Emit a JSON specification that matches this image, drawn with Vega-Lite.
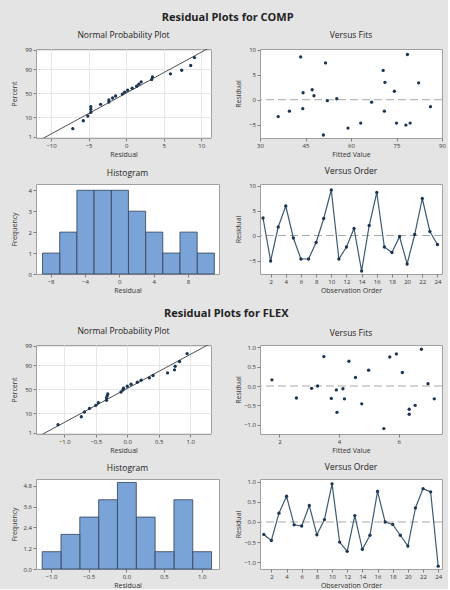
{
  "$schema": "https://vega.github.io/schema/vega-lite/v6.json",
  "background": "#e4e4e4",
  "padding": {"left": 9, "top": 11, "right": 2, "bottom": 0},
  "spacing": 13,
  "config": {
    "font": "Open Sans",
    "view": {"fill": "white", "stroke": "#a0a0a0", "strokeWidth": 1},
    "axis": {
      "labelFont": "Open Sans", "titleFont": "Open Sans",
      "labelFontSize": 6, "titleFontSize": 7, "titleFontWeight": "normal",
      "labelColor": "#333333", "titleColor": "#333333",
      "tickSize": 3, "tickColor": "#808080", "labelPadding": 1.5, "titlePadding": 2,
      "domain": false, "grid": false, "labelFlush": false, "labelOverlap": false
    },
    "axisY": {"minExtent": 16, "maxExtent": 16, "titlePadding": 3},
    "axisX": {"minExtent": 10, "maxExtent": 10},
    "title": {"font": "Open Sans", "fontSize": 8.5, "fontWeight": "normal", "color": "#222222", "anchor": "middle"}
  },
  "datasets": {
    "comp": [
      {"obs": 1, "fit": 71.2, "residual": 3.5, "normal_score": 0.868},
      {"obs": 2, "fit": 78.1, "residual": -5.1, "normal_score": -1.223},
      {"obs": 3, "fit": 74.3, "residual": 1.7, "normal_score": 0.48},
      {"obs": 4, "fit": 70.6, "residual": 5.9, "normal_score": 1.03},
      {"obs": 5, "fit": 66.8, "residual": -0.5, "normal_score": -0.051},
      {"obs": 6, "fit": 63.2, "residual": -4.7, "normal_score": -1.03},
      {"obs": 7, "fit": 75.0, "residual": -4.7, "normal_score": -0.868},
      {"obs": 8, "fit": 86.2, "residual": -1.4, "normal_score": -0.155},
      {"obs": 9, "fit": 82.3, "residual": 3.4, "normal_score": 0.727},
      {"obs": 10, "fit": 78.6, "residual": 9.1, "normal_score": 1.9},
      {"obs": 11, "fit": 79.5, "residual": -4.7, "normal_score": -0.727},
      {"obs": 12, "fit": 39.7, "residual": -2.3, "normal_score": -0.48},
      {"obs": 13, "fit": 44.2, "residual": 1.4, "normal_score": 0.367},
      {"obs": 14, "fit": 50.9, "residual": -7.1, "normal_score": -1.9},
      {"obs": 15, "fit": 47.2, "residual": 2.0, "normal_score": 0.599},
      {"obs": 16, "fit": 43.4, "residual": 8.6, "normal_score": 1.478},
      {"obs": 17, "fit": 71.0, "residual": -2.3, "normal_score": -0.367},
      {"obs": 18, "fit": 36.0, "residual": -3.4, "normal_score": -0.599},
      {"obs": 19, "fit": 52.2, "residual": -0.2, "normal_score": 0.051},
      {"obs": 20, "fit": 59.0, "residual": -5.7, "normal_score": -1.478},
      {"obs": 21, "fit": 55.3, "residual": 0.2, "normal_score": 0.155},
      {"obs": 22, "fit": 51.6, "residual": 7.4, "normal_score": 1.223},
      {"obs": 23, "fit": 47.8, "residual": 0.8, "normal_score": 0.26},
      {"obs": 24, "fit": 44.1, "residual": -1.8, "normal_score": -0.26}
    ],
    "flex": [
      {"obs": 1, "fit": 2.57, "residual": -0.31, "normal_score": -0.26},
      {"obs": 2, "fit": 4.76, "residual": -0.46, "normal_score": -0.727},
      {"obs": 3, "fit": 4.55, "residual": 0.22, "normal_score": 0.48},
      {"obs": 4, "fit": 4.33, "residual": 0.64, "normal_score": 0.868},
      {"obs": 5, "fit": 4.13, "residual": -0.07, "normal_score": -0.051},
      {"obs": 6, "fit": 3.91, "residual": -0.10, "normal_score": -0.155},
      {"obs": 7, "fit": 4.99, "residual": 0.41, "normal_score": 0.727},
      {"obs": 8, "fit": 3.74, "residual": -0.32, "normal_score": -0.367},
      {"obs": 9, "fit": 6.98, "residual": 0.06, "normal_score": 0.26},
      {"obs": 10, "fit": 6.76, "residual": 0.95, "normal_score": 1.9},
      {"obs": 11, "fit": 6.55, "residual": -0.50, "normal_score": -0.868},
      {"obs": 12, "fit": 6.35, "residual": -0.73, "normal_score": -1.478},
      {"obs": 13, "fit": 1.75, "residual": 0.16, "normal_score": 0.367},
      {"obs": 14, "fit": 3.93, "residual": -0.68, "normal_score": -1.223},
      {"obs": 15, "fit": 4.18, "residual": -0.33, "normal_score": -0.599},
      {"obs": 16, "fit": 3.49, "residual": 0.76, "normal_score": 1.223},
      {"obs": 17, "fit": 3.28, "residual": 0.00, "normal_score": 0.155},
      {"obs": 18, "fit": 3.08, "residual": -0.06, "normal_score": 0.051},
      {"obs": 19, "fit": 7.19, "residual": -0.33, "normal_score": -0.48},
      {"obs": 20, "fit": 6.35, "residual": -0.60, "normal_score": -1.03},
      {"obs": 21, "fit": 6.12, "residual": 0.35, "normal_score": 0.599},
      {"obs": 22, "fit": 5.92, "residual": 0.83, "normal_score": 1.478},
      {"obs": 23, "fit": 5.70, "residual": 0.75, "normal_score": 1.03},
      {"obs": 24, "fit": 5.50, "residual": -1.10, "normal_score": -1.9}
    ],
    "comp_line": [
      {"residual": -12.8, "normal_score": -2.8},
      {"residual": 12.8, "normal_score": 2.8}
    ],
    "flex_line": [
      {"residual": -1.56, "normal_score": -2.8},
      {"residual": 1.52, "normal_score": 2.8}
    ]
  },
  "vconcat": [
    {
      "title": {"text": "Residual Plots for COMP", "fontSize": 11, "fontWeight": "bold", "offset": 8},
      "spacing": 8,
      "vconcat": [
        {
          "spacing": 21,
          "hconcat": [
            {
              "title": {"text": "Normal Probability Plot", "offset": 7},
              "width": 175, "height": 89,
              "layer": [
                {
                  "data": {"name": "comp_line"},
                  "mark": {"type": "line", "color": "#505050", "strokeWidth": 1, "clip": true},
                  "encoding": {
                    "x": {"field": "residual", "type": "quantitative", "scale": {"domain": [-12, 11.3], "nice": false, "zero": false}, "axis": {"values": [-10, -5, 0, 5, 10], "tickCount": 12, "format": "d", "title": "Residual", "grid": true, "gridColor": "#e6e6e6"}},
                    "y": {"field": "normal_score", "type": "quantitative", "scale": {"domain": [-2.4, 2.36], "nice": false, "zero": false}, "axis": {"values": [-2.3263, -1.2816, 0, 1.2816, 2.3263], "tickCount": 12, "labelExpr": "datum.value < -2 ? '1' : datum.value < -1 ? '10' : datum.value < 1 ? '50' : datum.value < 2 ? '90' : '99'", "title": "Percent", "grid": true, "gridColor": "#e6e6e6"}}
                  }
                },
                {
                  "data": {"name": "comp"},
                  "mark": {"type": "circle", "size": 11, "color": "#1c3552", "opacity": 1},
                  "encoding": {
                    "x": {"field": "residual", "type": "quantitative", "axis": {"values": [-10, -5, 0, 5, 10], "tickCount": 12, "format": "d", "title": "Residual", "grid": true, "gridColor": "#e6e6e6"}},
                    "y": {"field": "normal_score", "type": "quantitative", "axis": {"values": [-2.3263, -1.2816, 0, 1.2816, 2.3263], "tickCount": 12, "labelExpr": "datum.value < -2 ? '1' : datum.value < -1 ? '10' : datum.value < 1 ? '50' : datum.value < 2 ? '90' : '99'", "title": "Percent", "grid": true, "gridColor": "#e6e6e6"}}
                  }
                }
              ]
            },
            {
              "title": {"text": "Versus Fits", "offset": 7},
              "width": 182, "height": 89,
              "layer": [
                {
                  "data": {"values": [{}]},
                  "mark": {"type": "rule", "color": "#a8a8a8", "strokeDash": [8, 4], "strokeWidth": 1},
                  "encoding": {"y": {"datum": 0, "type": "quantitative", "scale": {"domain": [-7.7, 10.2], "nice": false, "zero": false}, "axis": {"values": [-5, 0, 5, 10], "tickCount": 12, "format": "d", "title": "Residual"}}}
                },
                {
                  "data": {"name": "comp"},
                  "mark": {"type": "circle", "size": 11, "color": "#1c3552", "opacity": 1},
                  "encoding": {
                    "x": {"field": "fit", "type": "quantitative", "scale": {"domain": [30, 90], "nice": false, "zero": false}, "axis": {"values": [30, 45, 60, 75, 90], "tickCount": 12, "format": "d", "title": "Fitted Value"}},
                    "y": {"field": "residual", "type": "quantitative", "axis": {"values": [-5, 0, 5, 10], "tickCount": 12, "format": "d", "title": "Residual"}}
                  }
                }
              ]
            }
          ]
        },
        {
          "spacing": 13,
          "hconcat": [
            {
              "title": {"text": "Histogram", "offset": 7},
              "width": 183, "height": 90,
              "data": {"name": "comp"},
              "mark": {"type": "bar", "fill": "#7aa3d8", "stroke": "#2e3f57", "strokeWidth": 0.8, "binSpacing": 0},
              "encoding": {
                "x": {"field": "residual", "type": "quantitative", "bin": {"extent": [-9, 11], "step": 2, "nice": false}, "scale": {"domain": [-9.7, 11.6], "nice": false, "zero": false}, "axis": {"values": [-8, -4, 0, 4, 8], "tickCount": 12, "format": "d", "title": "Residual"}},
                "y": {"aggregate": "count", "type": "quantitative", "scale": {"domain": [0, 4.3], "nice": false}, "axis": {"values": [0, 1, 2, 3, 4], "tickCount": 12, "format": "d", "title": "Frequency"}}
              }
            },
            {
              "title": {"text": "Versus Order", "offset": 7},
              "width": 182, "height": 90,
              "layer": [
                {
                  "data": {"values": [{}]},
                  "mark": {"type": "rule", "color": "#a8a8a8", "strokeDash": [8, 4], "strokeWidth": 1},
                  "encoding": {"y": {"datum": 0, "type": "quantitative", "scale": {"domain": [-7.7, 10.3], "nice": false, "zero": false}, "axis": {"values": [-5, 0, 5, 10], "tickCount": 12, "format": "d", "title": "Residual"}}}
                },
                {
                  "data": {"name": "comp"},
                  "mark": {"type": "line", "color": "#3e5a6e", "strokeWidth": 1.2, "point": {"filled": true, "color": "#1c3552", "size": 11, "opacity": 1}},
                  "encoding": {
                    "x": {"field": "obs", "type": "quantitative", "scale": {"domain": [0.6, 24.6], "nice": false, "zero": false}, "axis": {"values": [2, 4, 6, 8, 10, 12, 14, 16, 18, 20, 22, 24], "tickCount": 12, "format": "d", "title": "Observation Order"}},
                    "y": {"field": "residual", "type": "quantitative", "axis": {"values": [-5, 0, 5, 10], "tickCount": 12, "format": "d", "title": "Residual"}}
                  }
                }
              ]
            }
          ]
        }
      ]
    },
    {
      "title": {"text": "Residual Plots for FLEX", "fontSize": 11, "fontWeight": "bold", "offset": 8},
      "spacing": 8,
      "vconcat": [
        {
          "spacing": 21,
          "hconcat": [
            {
              "title": {"text": "Normal Probability Plot", "offset": 7},
              "width": 175, "height": 89,
              "layer": [
                {
                  "data": {"name": "flex_line"},
                  "mark": {"type": "line", "color": "#505050", "strokeWidth": 1, "clip": true},
                  "encoding": {
                    "x": {"field": "residual", "type": "quantitative", "scale": {"domain": [-1.45, 1.33], "nice": false, "zero": false}, "axis": {"values": [-1, -0.5, 0, 0.5, 1], "tickCount": 12, "format": ".1f", "title": "Residual", "grid": true, "gridColor": "#e6e6e6"}},
                    "y": {"field": "normal_score", "type": "quantitative", "scale": {"domain": [-2.4, 2.36], "nice": false, "zero": false}, "axis": {"values": [-2.3263, -1.2816, 0, 1.2816, 2.3263], "tickCount": 12, "labelExpr": "datum.value < -2 ? '1' : datum.value < -1 ? '10' : datum.value < 1 ? '50' : datum.value < 2 ? '90' : '99'", "title": "Percent", "grid": true, "gridColor": "#e6e6e6"}}
                  }
                },
                {
                  "data": {"name": "flex"},
                  "mark": {"type": "circle", "size": 11, "color": "#1c3552", "opacity": 1},
                  "encoding": {
                    "x": {"field": "residual", "type": "quantitative", "axis": {"values": [-1, -0.5, 0, 0.5, 1], "tickCount": 12, "format": ".1f", "title": "Residual", "grid": true, "gridColor": "#e6e6e6"}},
                    "y": {"field": "normal_score", "type": "quantitative", "axis": {"values": [-2.3263, -1.2816, 0, 1.2816, 2.3263], "tickCount": 12, "labelExpr": "datum.value < -2 ? '1' : datum.value < -1 ? '10' : datum.value < 1 ? '50' : datum.value < 2 ? '90' : '99'", "title": "Percent", "grid": true, "gridColor": "#e6e6e6"}}
                  }
                }
              ]
            },
            {
              "title": {"text": "Versus Fits", "offset": 7},
              "width": 182, "height": 89,
              "layer": [
                {
                  "data": {"values": [{}]},
                  "mark": {"type": "rule", "color": "#a8a8a8", "strokeDash": [8, 4], "strokeWidth": 1},
                  "encoding": {"y": {"datum": 0, "type": "quantitative", "scale": {"domain": [-1.24, 1.06], "nice": false, "zero": false}, "axis": {"values": [-1, -0.5, 0, 0.5, 1], "tickCount": 12, "format": ".1f", "title": "Residual"}}}
                },
                {
                  "data": {"name": "flex"},
                  "mark": {"type": "circle", "size": 11, "color": "#1c3552", "opacity": 1},
                  "encoding": {
                    "x": {"field": "fit", "type": "quantitative", "scale": {"domain": [1.35, 7.45], "nice": false, "zero": false}, "axis": {"values": [2, 4, 6], "tickCount": 12, "format": "d", "title": "Fitted Value"}},
                    "y": {"field": "residual", "type": "quantitative", "axis": {"values": [-1, -0.5, 0, 0.5, 1], "tickCount": 12, "format": ".1f", "title": "Residual"}}
                  }
                }
              ]
            }
          ]
        },
        {
          "spacing": 13,
          "hconcat": [
            {
              "title": {"text": "Histogram", "offset": 7},
              "width": 183, "height": 90,
              "data": {"name": "flex"},
              "mark": {"type": "bar", "fill": "#7aa3d8", "stroke": "#2e3f57", "strokeWidth": 0.8, "binSpacing": 0},
              "encoding": {
                "x": {"field": "residual", "type": "quantitative", "bin": {"extent": [-1.125, 1.125], "step": 0.25, "nice": false}, "scale": {"domain": [-1.2, 1.23], "nice": false, "zero": false}, "axis": {"values": [-1, -0.5, 0, 0.5, 1], "tickCount": 12, "format": ".1f", "title": "Residual"}},
                "y": {"aggregate": "count", "type": "quantitative", "scale": {"domain": [0, 5.2], "nice": false}, "axis": {"values": [0, 1.2, 2.4, 3.6, 4.8], "tickCount": 12, "format": ".1f", "title": "Frequency"}}
              }
            },
            {
              "title": {"text": "Versus Order", "offset": 7},
              "width": 182, "height": 90,
              "layer": [
                {
                  "data": {"values": [{}]},
                  "mark": {"type": "rule", "color": "#a8a8a8", "strokeDash": [8, 4], "strokeWidth": 1},
                  "encoding": {"y": {"datum": 0, "type": "quantitative", "scale": {"domain": [-1.17, 1.07], "nice": false, "zero": false}, "axis": {"values": [-1, -0.5, 0, 0.5, 1], "tickCount": 12, "format": ".1f", "title": "Residual"}}}
                },
                {
                  "data": {"name": "flex"},
                  "mark": {"type": "line", "color": "#3e5a6e", "strokeWidth": 1.2, "point": {"filled": true, "color": "#1c3552", "size": 11, "opacity": 1}},
                  "encoding": {
                    "x": {"field": "obs", "type": "quantitative", "scale": {"domain": [0.5, 24.5], "nice": false, "zero": false}, "axis": {"values": [2, 4, 6, 8, 10, 12, 14, 16, 18, 20, 22, 24], "tickCount": 12, "format": "d", "title": "Observation Order"}},
                    "y": {"field": "residual", "type": "quantitative", "axis": {"values": [-1, -0.5, 0, 0.5, 1], "tickCount": 12, "format": ".1f", "title": "Residual"}}
                  }
                }
              ]
            }
          ]
        }
      ]
    }
  ]
}
